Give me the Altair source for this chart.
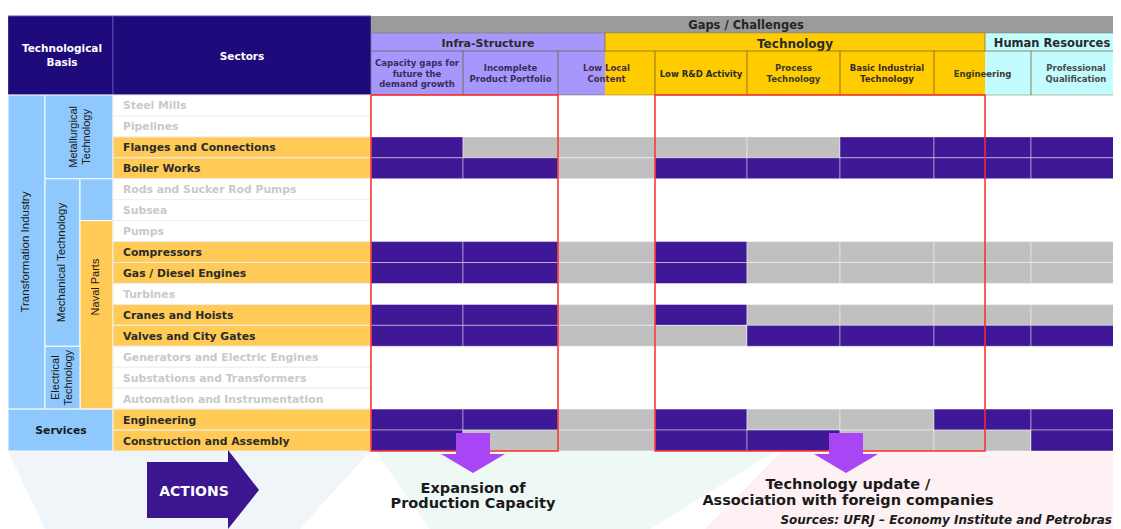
import altair as alt
import pandas as pd

# ---------------- data ----------------
GAP_TITLE = "Gaps / Challenges"
GAP_GROUPS = ["Infra-Structure", "Technology", "Human Resources"]
GAP_COLUMNS = [
    "Capacity gaps for\nfuture the\ndemand growth",
    "Incomplete\nProduct Portfolio",
    "Low Local\nContent",
    "Low R&D Activity",
    "Process\nTechnology",
    "Basic Industrial\nTechnology",
    "Engineering",
    "Professional\nQualification",
]
SECTORS = [
    "Steel Mills", "Pipelines", "Flanges and Connections", "Boiler Works",
    "Rods and Sucker Rod Pumps", "Subsea", "Pumps", "Compressors",
    "Gas / Diesel Engines", "Turbines", "Cranes and Hoists", "Valves and City Gates",
    "Generators and Electric Engines", "Substations and Transformers",
    "Automation and Instrumentation", "Engineering", "Construction and Assembly",
]
# D = critical gap, G = non-critical, "" = sector not highlighted
GAP_STATUS = [
    "", "", "DGGGGDDD", "DDGDDDDD", "", "", "", "DDGDGGGG", "DDGDGGGG", "",
    "DDGDGGGG", "DDGGDDDD", "", "", "", "DDGDGGDD", "DGGDDGGD",
]
HEADER_LABELS = ["Technological\nBasis", "Sectors"]
BASIS_LABELS = ["Transformation Industry", "Metallurgical\nTechnology",
                "Mechanical Technology", "Naval Parts", "Electrical\nTechnology", "Services"]
ACTIONS_LABEL = "ACTIONS"
ACTIONS = ["Expansion of\nProduction Capacity",
           "Technology update /\nAssociation with foreign companies"]
SOURCE = "Sources: UFRJ \u2013 Economy Institute and Petrobras"

# ---------------- layout & style ----------------
LEFT, TOP = 8, 8
W, H = 1105, 521
COL_EDGES = [371, 463, 558, 655, 747, 840, 934, 1031, 1121]
GROUP_EDGES = [371, 605, 985, 1121]
Y_TOP, Y_BAR, Y_GRP, Y_GRID, Y_END = 16, 33, 51, 95, 451
ROW_H = (Y_END - Y_GRID) / len(SECTORS)
SECT_X0, SECT_X1 = 113, 371
TY = 1  # small baseline correction for text

NAVY = "#1f0a7c"
DARK = "#3e1896"
GREY = "#c0c0c0"
BAR = "#9b9b9b"
LAV = "#a597fb"
YEL = "#ffcc00"
CYAN = "#c2fcff"
LBLUE = "#8ec8fc"
ORANGE = "#ffca55"
RED = "#ff2a2a"
ARROW = "#a845f5"
FONT = "DejaVu Sans"
NARROW = "Liberation Sans Narrow, Liberation Sans"

XS = alt.Scale(domain=[LEFT, LEFT + W], nice=False, zero=False)
YS = alt.Scale(domain=[TOP, TOP + H], nice=False, zero=False, reverse=True)


def ry(i):
    return Y_GRID + i * ROW_H


def rect_layer(rows, **mk):
    df = pd.DataFrame(rows, columns=["x", "x2", "y", "y2", "fill"])
    return alt.Chart(df).mark_rect(**mk).encode(
        x=alt.X("x:Q", scale=XS, axis=None), x2="x2:Q",
        y=alt.Y("y:Q", scale=YS, axis=None), y2="y2:Q",
        color=alt.Color("fill:N", scale=None),
    )


def lines_of(x, y, text, color, size, lh=0, rotated=False):
    parts = text.split("\n")
    n = len(parts)
    out = []
    for k, p in enumerate(parts):
        off = (k - (n - 1) / 2) * lh
        if rotated:
            out.append((x + off, y, p, color, size))
        else:
            out.append((x, y + off + TY, p, color, size))
    return out


def text_layer(rows, **mk):
    df = pd.DataFrame(rows, columns=["x", "y", "text", "color", "size"])
    mk.setdefault("font", FONT)
    mk.setdefault("baseline", "middle")
    return alt.Chart(df).mark_text(**mk).encode(
        x=alt.X("x:Q", scale=XS, axis=None),
        y=alt.Y("y:Q", scale=YS, axis=None),
        text="text:N",
        color=alt.Color("color:N", scale=None),
        size=alt.Size("size:Q", scale=None),
    )


def hpoly(ys, xs, x2s, color):
    df = pd.DataFrame({"y": ys, "x": xs, "x2": x2s})
    return alt.Chart(df).mark_area(orient="horizontal", color=color).encode(
        y=alt.Y("y:Q", scale=YS, axis=None),
        x=alt.X("x:Q", scale=XS, axis=None), x2="x2:Q")


def vpoly(xs, ys, y2s, color):
    df = pd.DataFrame({"x": xs, "y": ys, "y2": y2s})
    return alt.Chart(df).mark_area(orient="vertical", color=color).encode(
        x=alt.X("x:Q", scale=XS, axis=None),
        y=alt.Y("y:Q", scale=YS, axis=None), y2="y2:Q")


layers = []

# faint background shapes below the table
layers.append(hpoly([451, 529], [8, 45], [370, 300], "#f0f5f9"))
layers.append(hpoly([451, 529], [375, 430], [776, 650], "#eef9f5"))
layers.append(hpoly([451, 529], [782, 705], [1121, 1121], "#fdf1f3"))

# header blocks
layers.append(rect_layer([
    (LEFT, SECT_X0, Y_TOP, Y_GRID, NAVY),
    (SECT_X0, SECT_X1, Y_TOP, Y_GRID, NAVY),
], stroke="#5b4bb0", strokeWidth=1))
layers.append(rect_layer([(COL_EDGES[0], COL_EDGES[-1], Y_TOP, Y_BAR, BAR)]))
grp_cols = [LAV, YEL, CYAN]
layers.append(rect_layer([
    (GROUP_EDGES[i], GROUP_EDGES[i + 1], Y_BAR, Y_GRID, grp_cols[i]) for i in range(3)
]))
layers.append(rect_layer([
    (COL_EDGES[i], COL_EDGES[i + 1], Y_GRP, Y_GRID, "transparent") for i in range(8)
], stroke="#6e5e30", strokeWidth=0.8, strokeOpacity=0.55))
layers.append(rect_layer([
    (GROUP_EDGES[i], GROUP_EDGES[i + 1], Y_BAR, Y_GRP, "transparent") for i in range(3)
], stroke="#6e5e30", strokeWidth=0.8, strokeOpacity=0.45))

# left hierarchy blocks
layers.append(rect_layer([
    (LEFT, 45, ry(0), ry(15), LBLUE),
    (45, SECT_X0, ry(0), ry(4), LBLUE),
    (45, 80, ry(4), ry(12), LBLUE),
    (80, SECT_X0, ry(4), ry(6), LBLUE),
    (80, SECT_X0, ry(6), ry(15), ORANGE),
    (45, 80, ry(12), ry(15), LBLUE),
    (LEFT, SECT_X0, ry(15), ry(17), LBLUE),
], stroke="#ffffff", strokeWidth=1))

# sector label cells
layers.append(rect_layer([
    (SECT_X0, SECT_X1, ry(i), ry(i + 1), ORANGE if GAP_STATUS[i] else "#ffffff")
    for i in range(len(SECTORS))
], stroke="#eeeeee", strokeWidth=1))

# grid cells
cells = []
for i, st in enumerate(GAP_STATUS):
    for j, c in enumerate(st):
        cells.append((COL_EDGES[j], COL_EDGES[j + 1], ry(i), ry(i + 1),
                      DARK if c == "D" else GREY))
layers.append(rect_layer(cells, stroke="#ffffff", strokeWidth=0.8, strokeOpacity=0.55))

# red boxes
layers.append(rect_layer([
    (COL_EDGES[0], COL_EDGES[2], Y_GRID, Y_END, "transparent"),
    (COL_EDGES[3], GROUP_EDGES[2], Y_GRID, Y_END, "transparent"),
], stroke=RED, strokeWidth=1.5))

# down arrows
for cx in [473, 846]:
    layers.append(hpoly([433, 454, 454.01, 473],
                        [cx - 17, cx - 17, cx - 32, cx],
                        [cx + 17, cx + 17, cx + 32, cx], ARROW))

# ACTIONS block arrow
layers.append(vpoly([147, 228, 228.01, 259], [462, 462, 450, 490],
                    [518, 518, 529, 490], "#3b1690"))

# ---------------- texts ----------------
bold_center = []
bold_center += lines_of(62, 55, HEADER_LABELS[0], "#ffffff", 10.5, lh=14)
bold_center += lines_of(242, 56, HEADER_LABELS[1], "#ffffff", 10.5)
bold_center += lines_of(194, 491, ACTIONS_LABEL, "#ffffff", 14)
bold_center += lines_of(746, 25, GAP_TITLE, "#262626", 11.5)
bold_center += lines_of((GROUP_EDGES[0] + GROUP_EDGES[1]) / 2, 43, GAP_GROUPS[0], "#2a2a2a", 11)
bold_center += lines_of((GROUP_EDGES[1] + GROUP_EDGES[2]) / 2, 43, GAP_GROUPS[1], "#2a2a2a", 12)
bold_center += lines_of(1052, 43, GAP_GROUPS[2], "#2a2a2a", 11.5)
bold_center += lines_of(61, 430, BASIS_LABELS[5], "#1a1a1a", 10.8)
layers.append(text_layer(bold_center, fontWeight="bold", align="center"))

sub_colors = ["#3a2a5a", "#3a2a5a", "#4a2a4a", "#2a2a2a", "#3a3a2a", "#3a2a2a", "#3a3a2a", "#4a4a4a"]
subs = []
for j in range(8):
    subs += lines_of((COL_EDGES[j] + COL_EDGES[j + 1]) / 2, 72.5, GAP_COLUMNS[j],
                     sub_colors[j], 8.5, lh=10.5)
layers.append(text_layer(subs, fontWeight="bold", align="center"))

secs = []
for i in range(len(SECTORS)):
    secs += lines_of(123, (ry(i) + ry(i + 1)) / 2, SECTORS[i],
                     "#2b2b2b" if GAP_STATUS[i] else "#c9c9c9", 10.8)
layers.append(text_layer(secs, fontWeight="bold", align="left"))

rot = []
rot += lines_of(26, (ry(0) + ry(15)) / 2, BASIS_LABELS[0], "#1a1a1a", 11.5, rotated=True)
rot += lines_of(80, (ry(0) + ry(4)) / 2, BASIS_LABELS[1], "#1a1a1a", 11, lh=13, rotated=True)
rot += lines_of(62, (ry(4) + ry(12)) / 2, BASIS_LABELS[2], "#1a1a1a", 11.5, rotated=True)
rot += lines_of(96, 287, BASIS_LABELS[3], "#1a1a1a", 11, rotated=True)
rot += lines_of(62, (ry(12) + ry(15)) / 2, BASIS_LABELS[4], "#1a1a1a", 11, lh=13, rotated=True)
layers.append(text_layer(rot, font=NARROW, align="center", angle=270))

acts = []
acts += lines_of(473, 495.5, ACTIONS[0], "#1a1a1a", 14.5, lh=15.5)
acts += lines_of(848, 492, ACTIONS[1], "#1a1a1a", 14.5, lh=16)
layers.append(text_layer(acts, fontWeight="bold", align="center"))

layers.append(text_layer(lines_of(1112, 519, SOURCE, "#1a1a1a", 12),
                         fontWeight="bold", fontStyle="italic", align="right"))

chart = alt.layer(*layers).properties(
    width=W, height=H, padding=0,
    autosize=alt.AutoSizeParams(type="none"),
).configure(background="#ffffff").configure_view(stroke=None)

chart.save("out.html", embed_options={"renderer": "svg", "actions": False})
